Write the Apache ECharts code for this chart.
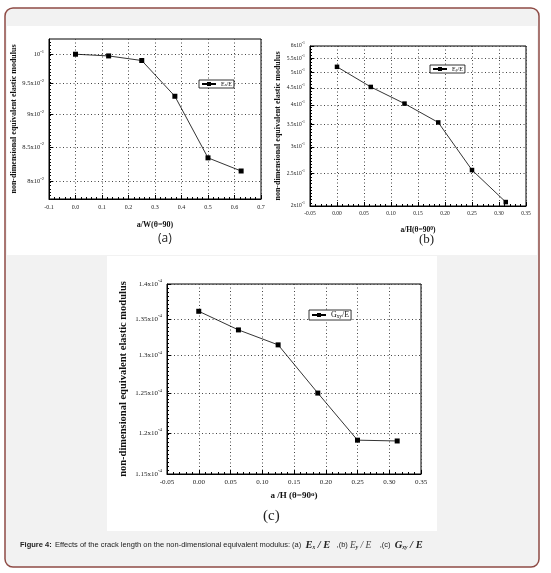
<!DOCTYPE html>
<html lang="en">
<head>
    <meta charset="UTF-8">
    <title>Figure 4</title>
    <style>
        body{margin:0;background:#fff;}
        #container{width:551px;height:573px;}
    </style>
    <script src="https://cdn.jsdelivr.net/npm/echarts@6/dist/echarts.min.js"></script>
</head>
<body>
<div id="container"></div>
<script type="text/javascript">
    // crack length a/W, a/H
    var xA = [0, 0.125, 0.25, 0.375, 0.5, 0.625];
    var xB = [0, 0.0625, 0.125, 0.1875, 0.25, 0.3125];
    var xC = [0, 0.0625, 0.125, 0.1875, 0.25, 0.3125];
    // non-dimensional moduli
    var exE = [0.1, 0.0997, 0.0989, 0.0929, 0.0834, 0.0815];
    var eyE = [0.520, 0.453, 0.404, 0.355, 0.256, 0.2055];
    var gxyE = [1.361e-4, 1.335e-4, 1.3145e-4, 1.2505e-4, 1.191e-4, 1.190e-4];

    // y tick labels (mantissa ^ exponent)
    var ticksA = [0.08, 0.085, 0.09, 0.095, 0.1];
    var labelsA = ['8x10^-2', '8.5x10^-2', '9x10^-2', '9.5x10^-2', '10^-1'];
    var ticksB = [0.2, 0.25, 0.3, 0.35, 0.4, 0.45, 0.5, 0.55, 0.6];
    var labelsB = ['2x10^-1', '2.5x10^-1', '3x10^-1', '3.5x10^-1', '4x10^-1', '4.5x10^-1', '5x10^-1', '5.5x10^-1', '6x10^-1'];
    var ticksC = [1.15e-4, 1.2e-4, 1.25e-4, 1.3e-4, 1.35e-4, 1.4e-4];
    var labelsC = ['1.15x10^-4', '1.2x10^-4', '1.25x10^-4', '1.3x10^-4', '1.35x10^-4', '1.4x10^-4'];

    var serif = '"Liberation Serif", "DejaVu Serif", serif';
    var gridDots = {color: '#444', type: [1, 2.5], width: 1};

    function pairs(xs, ys) {
        return xs.map(function (x, i) { return [x, ys[i]]; });
    }

    function supFormatter(ticks, texts) {
        return function (v) {
            for (var i = 0; i < ticks.length; i++) {
                if (Math.abs(ticks[i] - v) < ticks[i] * 1e-6) {
                    var p = texts[i].split('^');
                    return '{m|' + p[0] + '}{e|' + p[1] + '}';
                }
            }
            return '';
        };
    }

    // evenly spaced (on the log axis) small ticks
    function minorTicks(min, max, n) {
        var out = [];
        for (var k = 1; k < n; k++) out.push(min * Math.pow(max / min, k / n));
        return out;
    }

    function supRich(size) {
        return {
            m: {fontSize: size, fontFamily: serif, color: '#222', lineHeight: size + 4},
            e: {fontSize: size * 0.7, fontFamily: serif, color: '#222', verticalAlign: 'top', lineHeight: size * 0.7 + 1}
        };
    }

    function xAxisOf(grid, min, max, interval, digits, name, gap, size) {
        return {
            type: 'value', gridIndex: grid, min: min, max: max, interval: interval,
            name: name, nameLocation: 'middle', nameGap: gap,
            nameTextStyle: {fontFamily: serif, fontWeight: 'bold', fontSize: size + 2, color: '#111',
                rich: {t: {fontFamily: serif, fontWeight: 'bold', fontSize: size + 2, color: '#111'},
                       s: {fontFamily: serif, fontWeight: 'bold', fontSize: size, color: '#111', verticalAlign: 'top', lineHeight: size + 1}}},
            axisLine: {onZero: false, lineStyle: {color: '#000', width: 1}},
            axisTick: {inside: true, length: 4, lineStyle: {color: '#000'}},
            minorTick: {show: true, splitNumber: 5, length: 2, lineStyle: {color: '#000'}},
            axisLabel: {fontFamily: serif, fontSize: size, color: '#222', margin: 5,
                formatter: function (v) { return v.toFixed(digits); }},
            splitLine: {show: true, lineStyle: gridDots}
        };
    }

    function yAxesOf(grid, min, max, ticks, texts, minorN, gap, size, nameSize) {
        return [{
            type: 'log', logBase: 10, gridIndex: grid, min: min, max: max,
            name: 'non-dimensional equivalent elastic modulus', nameLocation: 'middle', nameGap: gap,
            nameTextStyle: {fontFamily: serif, fontWeight: 'bold', fontSize: nameSize, color: '#111'},
            axisLine: {onZero: false, lineStyle: {color: '#000', width: 1}},
            axisTick: {inside: true, length: 4, customValues: ticks, lineStyle: {color: '#000'}},
            axisLabel: {customValues: ticks, margin: 5, formatter: supFormatter(ticks, texts), rich: supRich(size)},
            splitLine: {show: true, lineStyle: gridDots}
        }, {
            type: 'log', logBase: 10, gridIndex: grid, min: min, max: max, position: 'left',
            axisLine: {show: false, onZero: false},
            axisTick: {inside: true, length: 2, customValues: minorTicks(min, max, minorN), lineStyle: {color: '#000'}},
            axisLabel: {show: false},
            splitLine: {show: false}
        }];
    }

    function lineSeries(name, xi, yi, data, sym) {
        return {
            name: name, type: 'line', xAxisIndex: xi, yAxisIndex: yi, data: data,
            symbol: 'rect', symbolSize: sym, color: '#000',
            lineStyle: {color: '#000', width: 0.8},
            itemStyle: {color: '#000'}, animation: false
        };
    }

    function legendOf(name, left, top, size, fmt) {
        return {
            data: [name], left: left, top: top, itemWidth: 14, itemHeight: 5, padding: [1, 2, 1, 2],
            borderColor: '#000', borderWidth: 0.8, backgroundColor: '#fff', selectedMode: false,
            formatter: function () { return fmt; },
            textStyle: {fontFamily: serif, fontSize: size, color: '#111',
                rich: {t: {fontFamily: serif, fontSize: size, color: '#111'},
                       b: {fontFamily: serif, fontSize: size * 0.65, color: '#111', verticalAlign: 'bottom', lineHeight: size}}}
        };
    }

    var myChart = echarts.init(document.getElementById('container'));

    var yAll = [].concat(
        yAxesOf(0, 0.0776, 0.1027, ticksA, labelsA, 48, 27, 6.5, 8),
        yAxesOf(1, 0.2, 0.6, ticksB, labelsB, 50, 28, 5.5, 8),
        yAxesOf(2, 1.15e-4, 1.4e-4, ticksC, labelsC, 48, 38, 7, 10.5)
    );

    var option = {
        animation: false,
        graphic: [
            {type: 'rect', z: -10, shape: {x: 5, y: 8, width: 534, height: 559, r: 8},
                style: {fill: '#f2f2f2', stroke: '#8e4b45', lineWidth: 1.5}},
            {type: 'rect', z: -9, shape: {x: 7, y: 26, width: 530, height: 229}, style: {fill: '#fff'}},
            {type: 'rect', z: -9, shape: {x: 107, y: 256, width: 330, height: 275}, style: {fill: '#fff'}},
            {type: 'text', left: 158, top: 233, style: {text: '(a)', font: '12px "Open Sans", sans-serif', fill: '#222'}},
            {type: 'text', left: 419, top: 233, style: {text: '(b)', font: '13px ' + serif, fill: '#222'}},
            {type: 'text', left: 263, top: 509, style: {text: '(c)', font: '15px ' + serif, fill: '#222'}},
            {type: 'text', left: 20, top: 539, style: {
                text: '{f|Figure 4:} {t|Effects of the crack length on the non-dimensional equivalent modulus: (a)  }{i|E}{s|x}{i| / E}{t|   ,(b) }{j|E}{s|y}{j| / E}{t|    ,(c)  }{i|G}{s|xy}{i| / E}',
                rich: {
                    f: {font: 'bold 7.5px "Liberation Sans", Arial, sans-serif', fill: '#222'},
                    t: {font: '7.5px "Liberation Sans", Arial, sans-serif', fill: '#222'},
                    i: {font: 'italic bold 10.5px ' + serif, fill: '#222'},
                    j: {font: 'italic 9.5px ' + serif, fill: '#444'},
                    s: {font: 'italic bold 5.5px ' + serif, fill: '#222', verticalAlign: 'bottom', lineHeight: 12}
                }
            }}
        ],
        grid: [
            {left: 49, top: 39, width: 212, height: 160, show: true, borderColor: '#000', borderWidth: 1},
            {left: 310, top: 46, width: 216, height: 160, show: true, borderColor: '#000', borderWidth: 1},
            {left: 167, top: 284, width: 254, height: 190, show: true, borderColor: '#000', borderWidth: 1}
        ],
        xAxis: [
            xAxisOf(0, -0.1, 0.7, 0.1, 1, '{t|a/W(θ=90)}', 22, 6),
            xAxisOf(1, -0.05, 0.35, 0.05, 2, '{t|a/H(θ=90}{s|0}{t|)}', 20, 5.5),
            xAxisOf(2, -0.05, 0.35, 0.05, 2, '{t|a /H (θ=90}{s|o}{t|)}', 17, 7)
        ],
        yAxis: yAll,
        legend: [
            legendOf('Ex/E', 199, 80, 6, '{t|E}{b|x}{t|/E}'),
            legendOf('Ey/E', 430, 65, 6, '{t|E}{b|y}{t|/E}'),
            legendOf('Gxy/E', 309, 310, 8, '{t|G}{b|xy}{t|/E}')
        ],
        series: [
            lineSeries('Ex/E', 0, 0, pairs(xA, exE), 5),
            lineSeries('Ey/E', 1, 2, pairs(xB, eyE), 4.5),
            lineSeries('Gxy/E', 2, 4, pairs(xC, gxyE), 5)
        ]
    };

    myChart.setOption(option);
</script>
</body>
</html>
